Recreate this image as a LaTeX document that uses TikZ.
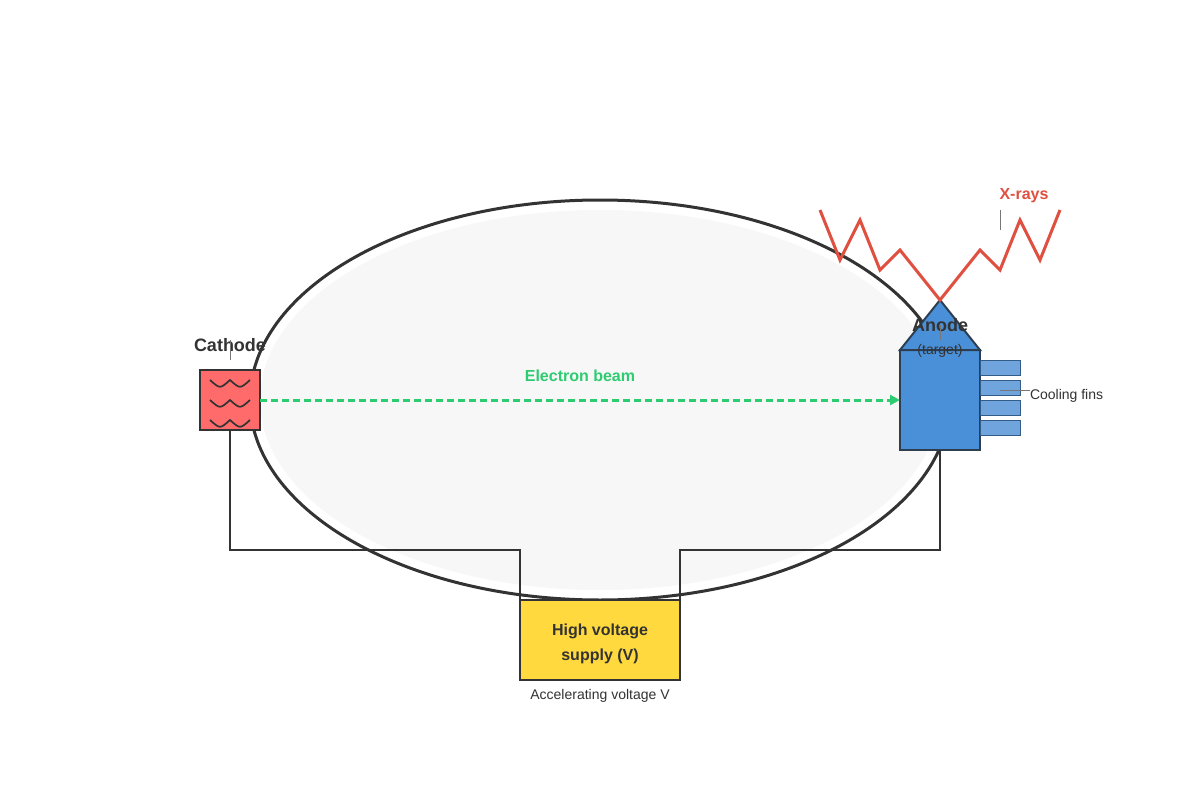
\documentclass[tikz,border=0pt]{standalone}
\usepackage{fontspec}
\setmainfont{Liberation Sans}
\usetikzlibrary{arrows.meta}
\definecolor{ink}{HTML}{333333}
\definecolor{tubefill}{HTML}{F7F7F7}
\definecolor{cathred}{HTML}{FF6B6B}
\definecolor{anodeblue}{HTML}{4A90D9}
\definecolor{anodeline}{HTML}{2C3E50}
\definecolor{finblue}{HTML}{6FA5DC}
\definecolor{finline}{HTML}{345C88}
\definecolor{supplyyellow}{HTML}{FFD93D}
\definecolor{beamgreen}{HTML}{2ECC71}
\definecolor{xred}{HTML}{E05040}
\definecolor{tickgray}{HTML}{777777}
\tikzset{
  wire/.style={draw=ink, line width=1.5pt},
  tick/.style={draw=tickgray, line width=1pt},
  boldlabel/.style={font=\bfseries\fontsize{18}{21}\selectfont, text=ink, inner sep=0pt},
  smalllabel/.style={font=\fontsize{14}{17}\selectfont, text=ink, inner sep=0pt},
  fin/.style={draw=finline, fill=finblue, line width=1pt, minimum width=40pt, minimum height=15pt, inner sep=0pt, outer sep=0pt},
  wave/.style={draw=ink, line width=1.7pt},
  every node/.append style={outer sep=0pt},
}
\begin{document}
\begin{tikzpicture}[x=1pt,y=-1pt]
\useasboundingbox (0,0) rectangle (1200,800);
\fill[white] (0,0) rectangle (1200,800);
% tube
\draw[ink, line width=3pt, fill=white] (600,400) ellipse [x radius=350pt, y radius=200pt];
\fill[tubefill] (600,400) ellipse [x radius=340pt, y radius=190pt];
% cathode
\node[draw=ink, fill=cathred, line width=2pt, minimum width=60pt, minimum height=60pt, inner sep=0pt] (cathode) at (230,400) {};
\foreach \yy in {380,400,420}{
  \draw[wave] (210,\yy) .. controls (220,\yy+9) .. (230,\yy) .. controls (240,\yy+9) .. (250,\yy);
}
\node[boldlabel] (cathlabel) at (230,345) {Cathode};
\coordinate (ct1) at (230,340);
\coordinate (ct2) at (230,360);
\draw[tick] (ct1) -- (ct2);
% anode
\node[draw=anodeline, fill=anodeblue, line width=2pt, minimum width=80pt, minimum height=100pt, inner sep=0pt] (anode) at (940,400) {};
\coordinate (apex) at (940,300);
\draw[draw=anodeline, fill=anodeblue, line width=2pt, line join=miter] (anode.north west) -- (apex) -- (anode.north east) -- cycle;
\node[fin] (fin1) at (1000,367.5) {};
\node[fin] (fin2) at (1000,387.5) {};
\node[fin] (fin3) at (1000,407.5) {};
\node[fin] (fin4) at (1000,427.5) {};
\node[boldlabel] (anodelabel) at (940,325) {Anode};
\coordinate (at1) at (940,325);
\coordinate (at2) at (940,340);
\draw[tick] (at1) -- (at2);
\node[smalllabel] (target) at (940,351) {(target)};
\coordinate (finlead) at (1000,390);
\coordinate (finlead2) at (1030,390);
\node[smalllabel, anchor=west] (finlabel) at (1030,396) {Cooling fins};
\draw[tick] (finlead) -- (finlead2);
% supply
\node[draw=ink, fill=supplyyellow, line width=2pt, minimum width=160pt, minimum height=80pt, inner sep=0pt] (supply) at (600,640) {};
\node[align=center, font=\bfseries\fontsize{16}{25}\selectfont, text=ink, inner sep=0pt] (supplytext) at (600,643.5) {High voltage\\supply (V)};
\node[smalllabel] (acc) at (600,696) {Accelerating voltage V};
% wires
\coordinate (wl) at (230,550);
\coordinate (wl2) at (520,550);
\coordinate (wr) at (940,550);
\coordinate (wr2) at (680,550);
\draw[wire] (cathode.south) -- (wl) -- (wl2) -- (supply.north west);
\draw[wire] (anode.south) -- (wr) -- (wr2) -- (supply.north east);
% beam
\coordinate (beamend) at (anode.west);
\draw[draw=beamgreen, line width=3pt, dash pattern=on 7pt off 4pt, -{Triangle[length=10pt,width=10pt]}] (cathode.east) -- (beamend);
\node[font=\bfseries\fontsize{16}{19}\selectfont, text=beamgreen, inner sep=0pt] (beamlabel) at (580,376) {Electron beam};
% x-rays
\draw[xred, line width=3pt, line join=miter] (820,210) -- (840,260) -- (860,220) -- (880,270) -- (900,250) -- (apex)
  -- (980,250) -- (1000,270) -- (1020,220) -- (1040,260) -- (1060,210);
\node[font=\bfseries\fontsize{16}{19}\selectfont, text=xred, inner sep=0pt] (xlabel) at (1024,196) {X-rays};
\coordinate (xt1) at (1000,210);
\coordinate (xt2) at (1000,230);
\draw[tick] (xt1) -- (xt2);
\end{tikzpicture}
\end{document}
